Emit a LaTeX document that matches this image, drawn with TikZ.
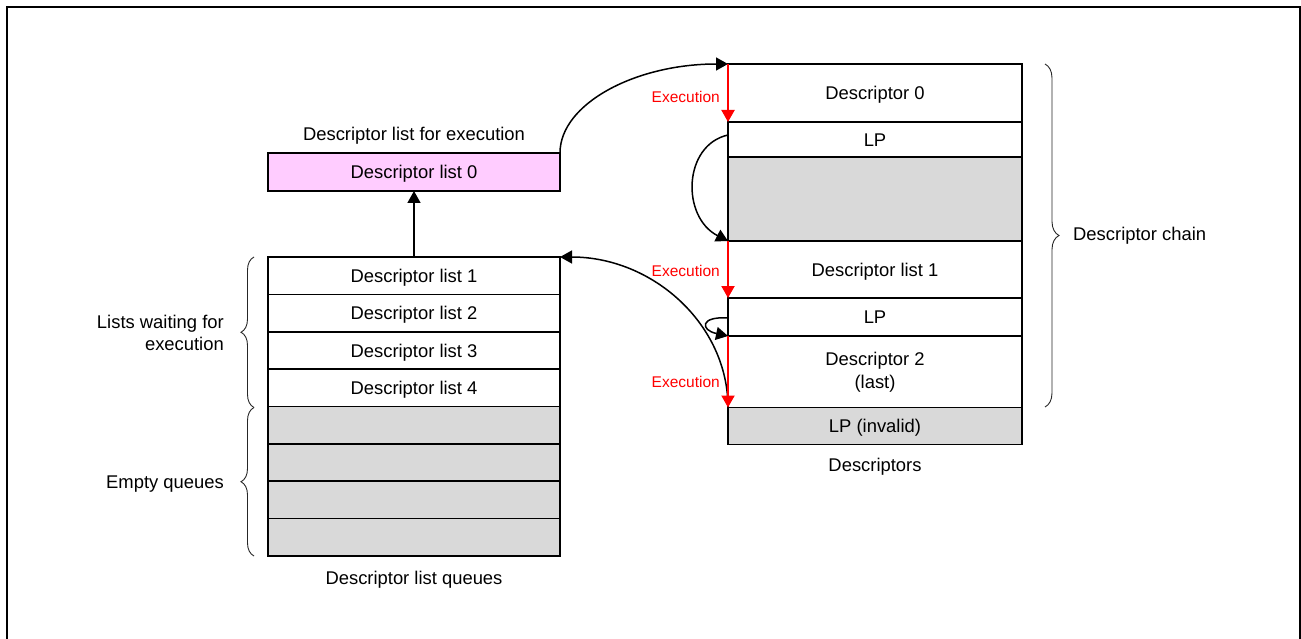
\documentclass[tikz,border=0pt]{standalone}
\usepackage{fontspec}
\setmainfont{Liberation Sans}
\usetikzlibrary{arrows.meta,decorations.pathreplacing}
\definecolor{pinkfill}{HTML}{FFCCFF}
\definecolor{grayfill}{HTML}{D9D9D9}
\definecolor{redline}{HTML}{FF0000}
\begin{document}
\begin{tikzpicture}[x=1pt,y=-1pt,
  every node/.style={font=\fontsize{18.4}{22.5}\selectfont},
  oneline/.style={text height=13.2pt,text depth=0pt},
  cell/.style={draw=black,line width=1.5pt,inner sep=0pt,outer sep=0pt,minimum width=292pt,oneline},
  rcell/.style={draw=black,line width=1.5pt,inner sep=0pt,outer sep=0pt,minimum width=294pt},
  grayc/.style={fill=grayfill},
  tip/.style={-{Triangle[length=12pt,width=13pt]}},
  curvearrow/.style={tip,line width=1.5pt,black},
  execarrow/.style={tip,line width=2pt,redline},
  execlabel/.style={font=\fontsize{15.5}{18}\selectfont,text=redline,anchor=east,inner sep=0pt,text height=11.1pt,text depth=0pt},
  bracedeco/.style={decorate,decoration={brace,amplitude=#1},line width=0.9pt,black!85},
  plain/.style={inner sep=0pt,oneline}
]
\useasboundingbox (0,0) rectangle (1301,639);
% outer frame
\draw[line width=2pt] (6.5,639) -- (6.5,7.5) -- (1299.5,7.5) -- (1299.5,639);

% left column
\node[cell,fill=pinkfill,minimum height=38pt] (dl0) at (414,172) {Descriptor list 0};
\node[cell,minimum height=37.4pt] (q1) at (414,275.7) {Descriptor list 1};
\node[cell,minimum height=37.4pt] (q2) at (414,313.1) {Descriptor list 2};
\node[cell,minimum height=37.4pt] (q3) at (414,350.4) {Descriptor list 3};
\node[cell,minimum height=37.4pt] (q4) at (414,387.8) {Descriptor list 4};
\node[cell,grayc,minimum height=37.4pt] (e1) at (414,425.2) {};
\node[cell,grayc,minimum height=37.4pt] (e2) at (414,462.6) {};
\node[cell,grayc,minimum height=37.4pt] (e3) at (414,499.9) {};
\node[cell,grayc,minimum height=37.4pt] (e4) at (414,537.3) {};
\node[plain] (lexec) at (414,134) {Descriptor list for execution};
\node[plain] (lqueues) at (414,578) {Descriptor list queues};

% right column
\node[rcell,oneline,minimum height=58pt] (d0) at (875,93) {Descriptor 0};
\node[rcell,oneline,minimum height=35pt] (lp1) at (875,139.5) {LP};
\node[rcell,grayc,minimum height=84pt] (g1) at (875,199) {};
\node[rcell,oneline,minimum height=57pt] (dl1) at (875,269.5) {Descriptor list 1};
\node[rcell,oneline,minimum height=38pt] (lp2) at (875,317) {LP};
\node[rcell,minimum height=71.5pt] (d2) at (875,371.75) {};
\node[plain] (d2a) at (875,359) {Descriptor 2};
\node[plain] (d2b) at (875,382) {(last)};
\node[rcell,grayc,oneline,minimum height=37pt] (lpi) at (875,426) {LP (invalid)};
\node[plain] (ldesc) at (875,465) {Descriptors};

% braces
\coordinate (bcT) at (1045,64);
\coordinate (bcB) at (1045,407);
\draw[bracedeco=14pt] (bcT) -- (bcB);
\node[plain,anchor=west] (lchain) at (1073,234) {Descriptor chain};

\coordinate (bwT) at (254,257);
\coordinate (bwB) at (254,407.5);
\coordinate (beB) at (254,556);
\draw[bracedeco=13pt] (bwB) -- (bwT);
\draw[bracedeco=13pt] (beB) -- (bwB);
\node[plain,anchor=east] (lwait1) at (224,322) {Lists waiting for};
\node[plain,anchor=east] (lwait2) at (224,343.5) {execution};
\node[plain,anchor=east] (lempty) at (224,482) {Empty queues};

% connectors
\draw[curvearrow] (q1.north) -- (dl0.south);
\draw[curvearrow] (dl0.north east) .. controls +(0,-49) and +(-93,0) .. (d0.north west);
\draw[curvearrow] ([yshift=4.5pt]lp1.west) .. controls +(-45,10) and +(-47,-24) .. (g1.south west);
\draw[curvearrow] ([yshift=-1pt]lp2.west) .. controls +(-28,-2) and +(-28,-6) .. (lp2.south west);
\draw[curvearrow] (d2.south west) .. controls +(0,-83) and +(93,0) .. (q1.north east);

% execution arrows
\draw[execarrow] (d0.north west) -- (d0.south west);
\draw[execarrow] (dl1.north west) -- (dl1.south west);
\draw[execarrow] (d2.north west) -- (d2.south west);
\node[execlabel] (x1) at (720,97) {Execution};
\node[execlabel] (x2) at (720,271) {Execution};
\node[execlabel] (x3) at (720,382) {Execution};
\end{tikzpicture}
\end{document}
